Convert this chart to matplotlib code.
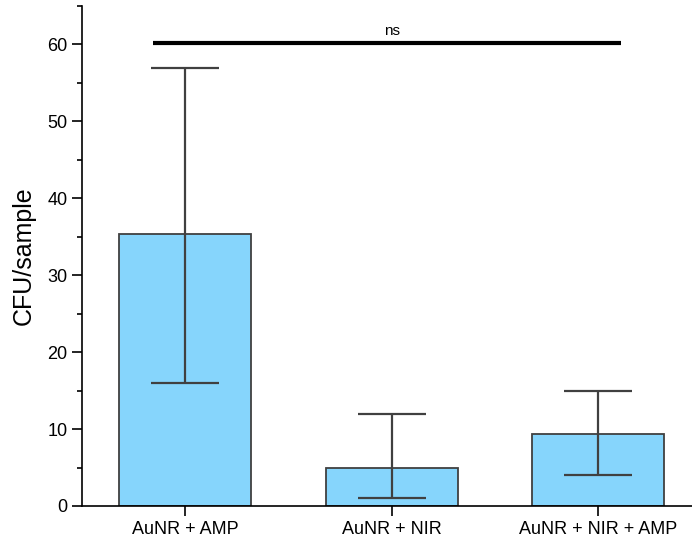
import matplotlib.pyplot as plt
from matplotlib.ticker import MultipleLocator

plt.rcParams['font.family'] = ['Liberation Sans', 'DejaVu Sans']

# group means and asymmetric error limits (CFU per sample)
grupos = ["AuNR + AMP", "AuNR + NIR", "AuNR + NIR + AMP"]
medias = [35.3, 5.0, 9.3]
lim_inf = [16.0, 1.0, 4.0]
lim_sup = [57.0, 12.0, 15.0]

# significance bracket between first and last group
sig_texto = "ns"
sig_altura = 60.2

x = list(range(len(grupos)))
err_abajo = [m - lo for m, lo in zip(medias, lim_inf)]
err_arriba = [hi - m for m, hi in zip(medias, lim_sup)]

fig = plt.figure(figsize=(6.92, 5.44), dpi=100)
ax = fig.add_axes([0.1185, 0.0699, 0.8815, 0.919])

ax.bar(x, medias, width=0.64, color="#86D5FC", edgecolor="#404040",
       linewidth=1.3, zorder=2)
ax.errorbar(x, medias, yerr=[err_abajo, err_arriba], fmt="none",
            ecolor="#404040", elinewidth=1.6, capsize=24.5, capthick=1.6,
            zorder=3)

ax.plot([x[0] - 0.155, x[-1] + 0.11], [sig_altura, sig_altura],
        color="black", linewidth=3, solid_capstyle="butt", zorder=4)
ax.text((x[0] + x[-1]) / 2, sig_altura + 0.6, sig_texto, ha="center",
        va="bottom", fontsize=11)

ax.set_xlim(-0.5, 2.454)
ax.set_ylim(0, 65)
ax.set_xticks(x)
ax.set_xticklabels(grupos)
ax.yaxis.set_major_locator(MultipleLocator(10))
ax.yaxis.set_minor_locator(MultipleLocator(5))
ax.set_ylabel("CFU/sample", fontsize=18, labelpad=8)

for lado in ["top", "right"]:
    ax.spines[lado].set_visible(False)
for lado in ["left", "bottom"]:
    ax.spines[lado].set_linewidth(1.2)
ax.tick_params(axis="both", which="major", direction="out", length=7,
               width=1.2, labelsize=13)
ax.tick_params(axis="y", which="minor", direction="out", length=3.5,
               width=1.2)
ax.tick_params(axis="x", which="minor", bottom=False)

fig.savefig("out.png", dpi=100)
